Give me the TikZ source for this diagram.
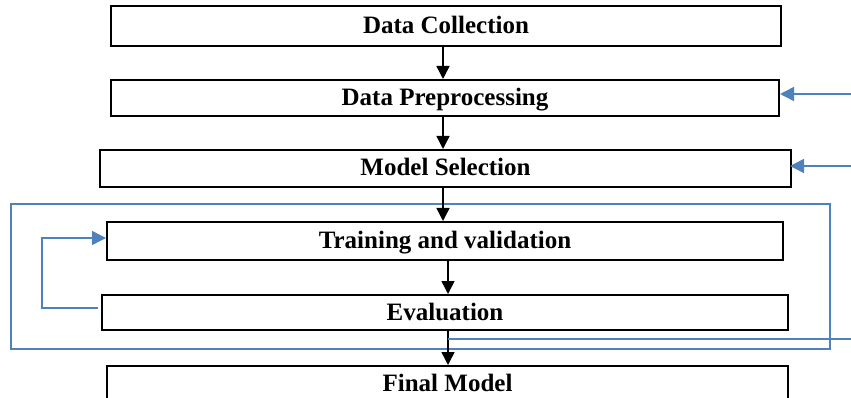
\documentclass[tikz,border=0pt]{standalone}
\usepackage{fontspec}
\setmainfont{Liberation Serif}
\usetikzlibrary{arrows.meta}
\definecolor{lineblue}{RGB}{79,129,189}
\tikzset{
  stepbox/.style={draw=black, line width=2pt, inner sep=0pt, anchor=north west,
    font=\fontsize{25}{30}\selectfont\bfseries, text height=15pt, text depth=0pt},
  flow/.style={draw=black, line width=1.5pt, -{Triangle[length=13pt,width=13pt]}},
  bluearrow/.style={draw=lineblue, line width=1.5pt, -{Triangle[length=14pt,width=14pt]}},
  blueline/.style={draw=lineblue, line width=1.3pt},
  frame/.style={draw=lineblue, line width=2pt}
}
\begin{document}
\begin{tikzpicture}[x=1pt,y=-1pt]
\useasboundingbox (0,0) rectangle (851,398);
\clip (0,0) rectangle (851,398);
% container frame
\draw[frame] (11,204) rectangle (830,349);
% boxes
\node[stepbox, minimum width=670pt, minimum height=40pt] (b1) at (110,5) {Data Collection};
\node[stepbox, minimum width=668pt, minimum height=36pt] (b2) at (110,79) {Data Preprocessing};
\node[stepbox, minimum width=691pt, minimum height=37pt] (b3) at (99,149) {Model Selection};
\node[stepbox, minimum width=676pt, minimum height=38pt] (b4) at (106,221) {Training and validation};
\node[stepbox, minimum width=686pt, minimum height=35pt] (b5) at (101,294) {Evaluation};
\node[stepbox, minimum width=681pt, minimum height=44pt, text depth=9pt] (b6) at (106,365) {Final Model};
% vertical flow
\draw[flow] (b1.south -| 443,0) -- (b2.north -| 443,0);
\draw[flow] (b2.south -| 443,0) -- (b3.north -| 443,0);
\draw[flow] (b3.south -| 443,0) -- (b4.north -| 443,0);
\draw[flow] (b4.south -| 448,0) -- (b5.north -| 448,0);
\draw[flow] (b5.south -| 448,0) -- (b6.north -| 448,0);
% right-side inputs
\coordinate (r1) at (851,94);
\coordinate (r2) at (851,166);
\coordinate (r3) at (851,339);
\coordinate (r3s) at (448,339);
\draw[bluearrow] (r1) -- (r1 -| b2.east);
\draw[bluearrow] (r2) -- ([xshift=-2pt]r2 -| b3.east);
\draw[blueline] (r3) -- (r3s);
% feedback loop
\coordinate (fb) at (42,238);
\draw[bluearrow] ([xshift=-3pt]b5.west |- 0,308) -| (fb) -- (fb -| b4.west);
\end{tikzpicture}
\end{document}
